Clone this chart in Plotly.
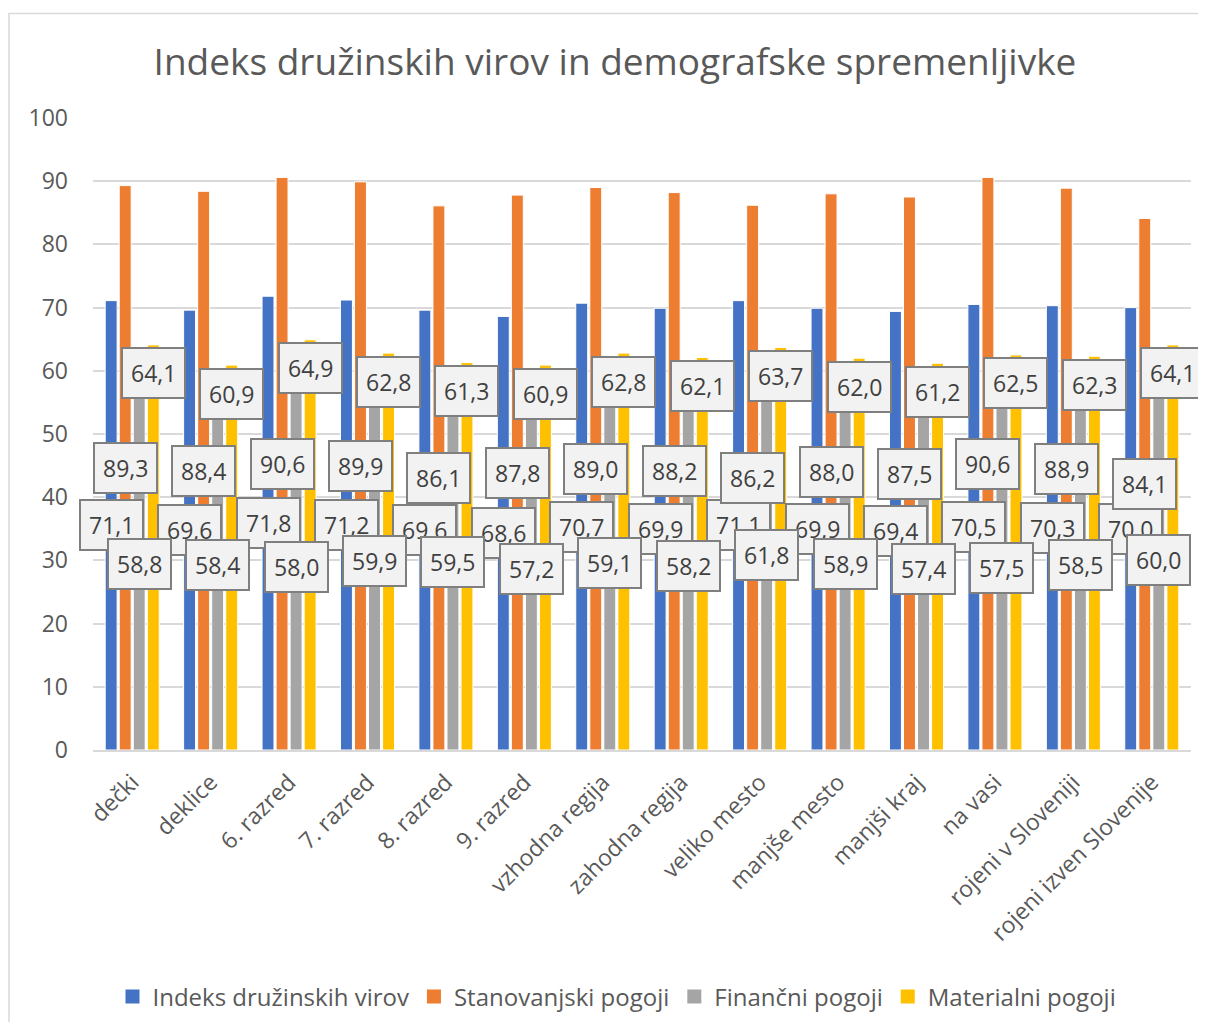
import plotly.graph_objects as go

categories = ["dečki", "deklice", "6. razred", "7. razred", "8. razred", "9. razred",
              "vzhodna regija", "zahodna regija", "veliko mesto", "manjše mesto",
              "manjši kraj", "na vasi", "rojeni v Sloveniji", "rojeni izven Slovenije"]

indeks = [71.1, 69.6, 71.8, 71.2, 69.6, 68.6, 70.7, 69.9, 71.1, 69.9, 69.4, 70.5, 70.3, 70.0]
stanovanjski = [89.3, 88.4, 90.6, 89.9, 86.1, 87.8, 89.0, 88.2, 86.2, 88.0, 87.5, 90.6, 88.9, 84.1]
financni = [58.8, 58.4, 58.0, 59.9, 59.5, 57.2, 59.1, 58.2, 61.8, 58.9, 57.4, 57.5, 58.5, 60.0]
materialni = [64.1, 60.9, 64.9, 62.8, 61.3, 60.9, 62.8, 62.1, 63.7, 62.0, 61.2, 62.5, 62.3, 64.1]

series_names = ["Indeks družinskih virov", "Stanovanjski pogoji", "Finančni pogoji", "Materialni pogoji"]
series_values = [indeks, stanovanjski, financni, materialni]
colors = ["#4472C4", "#ED7D31", "#A5A5A5", "#FFC000"]

FONT = "Open Sans"
OFF = 8  # page body margin
W, H = 1190, 1014
L, R, T, B = 93 - OFF, W - (1191 - OFF), 117.5 - OFF, H - (750 - OFF)
bargap = 0.284
slot = (1 - bargap) / 4

fig = go.Figure()
for name, vals, col in zip(series_names, series_values, colors):
    fig.add_trace(go.Bar(x=categories, y=vals, name=name, showlegend=False,
                         marker=dict(color=col, line=dict(width=1, color="white"))))
# legend entries with square swatches
for name, col in zip(series_names, colors):
    fig.add_trace(go.Scatter(x=[None], y=[None], mode="markers", name=name,
                             marker=dict(symbol="square", size=14, color=col),
                             hoverinfo="skip"))

annotations = []
for s, vals in enumerate(series_values):
    off = (s - 1.5) * slot
    for i, v in enumerate(vals):
        ypos = v - 4.5 if s == 3 else v / 2
        annotations.append(dict(
            x=i + off, y=ypos, xref="x", yref="y",
            text=f"{v:.1f}".replace(".", ","), showarrow=False,
            font=dict(family=FONT, size=23, color="#404040"),
            bgcolor="#F2F2F2", bordercolor="#7F7F7F", borderwidth=2, borderpad=8,
            xanchor="center", yanchor="middle"))

pw = W - L - R
ph = H - T - B
fig.update_layout(
    width=W, height=H,
    margin=dict(l=L, r=R, t=T, b=B),
    paper_bgcolor="white", plot_bgcolor="white",
    barmode="group", bargap=bargap, bargroupgap=0.15,
    font=dict(family=FONT, color="#595959"),
    title=dict(text="Indeks družinskih virov in demografske spremenljivke",
               x=(615 - OFF) / W, xref="container", xanchor="center",
               y=1 - (62 - OFF) / H, yref="container", yanchor="middle",
               font=dict(family=FONT, size=37, color="#595959")),
    xaxis=dict(tickangle=-45, tickfont=dict(family=FONT, size=23, color="#595959"),
               range=[-0.5, len(categories) - 0.5], autorange=False, automargin=False,
               showline=True, linecolor="#D9D9D9", linewidth=1.5, ticks="",
               ticklabelstandoff=8, showgrid=False),
    yaxis=dict(range=[0, 100], autorange=False, automargin=False, dtick=10,
               tickfont=dict(family=FONT, size=23, color="#595959"),
               showgrid=True, gridcolor="#D9D9D9", gridwidth=1.5, zeroline=False,
               ticks="", ticklabelstandoff=24, showline=False),
    legend=dict(orientation="h", x=(617 - OFF) / W, xref="container", xanchor="center",
                y=1 - (997 - OFF) / H, yref="container", yanchor="middle",
                font=dict(family=FONT, size=24, color="#595959"),
                itemwidth=30, tracegroupgap=0),
    annotations=annotations,
    shapes=[dict(type="rect", xref="paper", yref="paper",
                 x0=(9 - OFF - L) / pw, x1=(1240 - OFF - L) / pw,
                 y0=(H - B - 1060) / ph, y1=(H - B - (13 - OFF)) / ph,
                 line=dict(color="#D9D9D9", width=1.5), fillcolor="rgba(0,0,0,0)", layer="below")],
)

fig.write_html("out.html")
